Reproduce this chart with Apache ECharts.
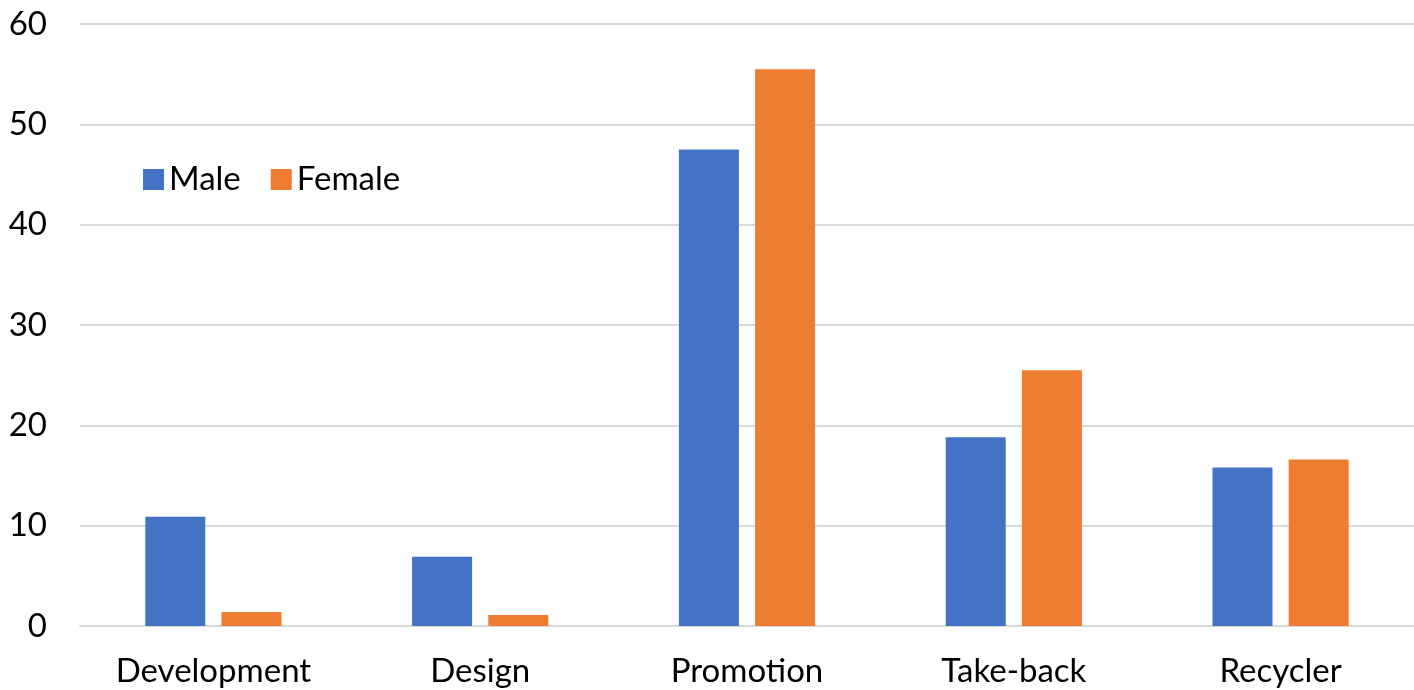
<!DOCTYPE html>
<html>
  <head>
    <meta charset="utf-8" />
    <script src="https://cdn.jsdelivr.net/npm/echarts@6/dist/echarts.min.js"></script>
    <style>
      html, body { margin: 0; padding: 0; background: #fff; }
    </style>
  </head>
  <body>
    <div id="main" style="width: 1414px; height: 690px"></div>

    <script type="text/javascript">
      var categories = ["Development", "Design", "Promotion", "Take-back", "Recycler"];
      var maleValues = [10.9, 6.9, 47.5, 18.8, 15.8];
      var femaleValues = [1.4, 1.1, 55.5, 25.5, 16.6];
      var yTicks = [0, 10, 20, 30, 40, 50, 60];

      var myChart = echarts.init(document.getElementById("main"));
      var fontName = "Lato";

      var option = {
        animation: false,
        textStyle: { fontFamily: fontName },
        legend: {
          left: 138,
          top: 158,
          itemWidth: 21,
          itemHeight: 21,
          itemGap: 30,
          icon: "rect",
          textStyle: { fontSize: 33, color: "#000", fontFamily: fontName },
          data: ["Male", "Female"]
        },
        grid: { left: 80, right: 0, top: 24, bottom: 64, containLabel: false },
        xAxis: {
          type: "category",
          data: categories,
          axisLine: { lineStyle: { color: "#d9d9d9", width: 2 } },
          axisTick: { show: false },
          axisLabel: { fontSize: 33, color: "#000", margin: 29, fontFamily: fontName }
        },
        yAxis: {
          type: "value",
          min: yTicks[0],
          max: yTicks[yTicks.length - 1],
          interval: 10,
          axisLine: { show: false },
          axisTick: { show: false },
          splitLine: { lineStyle: { color: "#d9d9d9", width: 2 } },
          axisLabel: { fontSize: 33, color: "#000", margin: 33, fontFamily: fontName }
        },
        series: [
          {
            name: "Male",
            type: "bar",
            data: maleValues,
            barWidth: 60,
            barGap: "27%",
            itemStyle: { color: "#4472c4" }
          },
          {
            name: "Female",
            type: "bar",
            data: femaleValues,
            barWidth: 60,
            itemStyle: { color: "#ed7d31" }
          }
        ]
      };

      myChart.setOption(option);
    </script>
  </body>
</html>
